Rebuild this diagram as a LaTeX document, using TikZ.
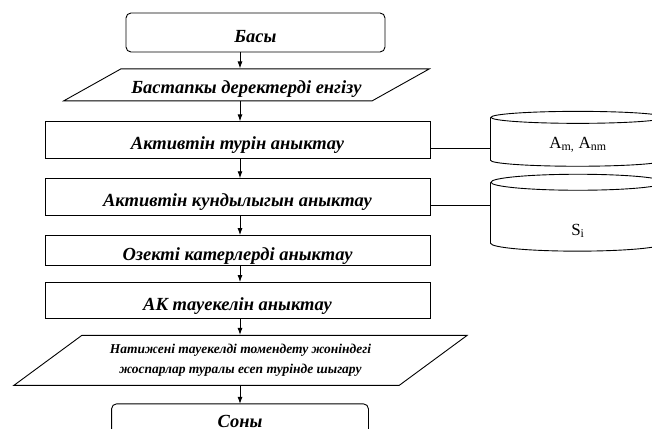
\documentclass[tikz,border=0pt]{standalone}
\usepackage{fontspec}
\setmainfont{Liberation Serif}
\usetikzlibrary{shapes,arrows,arrows.meta}
\usetikzlibrary{positioning,calc}

\begin{document}
\begin{tikzpicture}[x=1pt, y=1pt, align=center, line width=0.9pt, >={Latex[length=7pt,width=5pt]}]

%local definitions
\tikzstyle{BoxText} = [inner ysep=0pt, text height=22pt, text depth=3pt, font=\fontsize{18.5}{21}\selectfont\bfseries\itshape]
\tikzstyle{StartStop} = [draw, rectangle, rounded corners=5pt, minimum width=259pt, minimum height=39pt, BoxText]
\tikzstyle{InOut} = [draw, trapezium, trapezium left angle=24.6, trapezium right angle=155.4, trapezium stretches=true, minimum width=367pt, minimum height=32pt, inner xsep=0pt, BoxText]
\tikzstyle{Process} = [draw, rectangle, minimum width=385pt, minimum height=37pt, BoxText]
\tikzstyle{Store} = [rectangle, minimum width=174pt, font=\fontsize{17}{20}\selectfont]

\useasboundingbox (0,0) rectangle (652,428);

%flow blocks
	\node [StartStop, text height=24pt] (start) at (255.5,395.5) {Басы};
	\node [InOut, below=16pt of start, xshift=-9pt, text height=21pt] (input) {Бастапкы деректерді енгізу};
	\node [Process, below=20pt of input, xshift=-9pt] (assetType) {Активтін турін аныктау};
	\node [Process, below=19pt of assetType] (assetValue) {Активтін кундылыгын аныктау};
	\node [Process, below=19pt of assetValue, minimum height=30pt] (threats) {Озекті катерлерді аныктау};
	\node [Process, below=16pt of threats, minimum height=36pt] (riskIS) {АК тауекелін аныктау};
	\node [InOut, below=16pt of riskIS, xshift=3pt, trapezium left angle=30, trapezium right angle=150, minimum width=455pt, minimum height=50pt, text height={}, text depth={}, font=\fontsize{13.5}{20}\selectfont\bfseries\itshape] (output) {Натижені тауекелді томендету жоніндегі\\жоспарлар туралы есеп турінде шыгару};
	\node [StartStop, draw=none, below=18pt of output, xshift=-0.5pt, minimum width=256pt, minimum height=30pt, text height=17pt, text depth=0pt] (finish) {Соны};
	% box runs off the lower edge of the page
	\draw [rounded corners=5pt] (finish.south west) -- (finish.north west) -- (finish.north east) -- (finish.south east);

%data stores
	\node [Store, right=60pt of assetType, yshift=-4.5pt, minimum height=42pt] (storeA) {A\textsubscript{m,} A\textsubscript{nm}};
	\node [Store, right=60pt of assetValue, yshift=-23.5pt, minimum height=60pt, text height=32pt] (storeS) {S\textsubscript{i}};
	\foreach \st/\ry in {storeA/6, storeS/8} {
		\draw ([yshift=\ry pt]\st.north) ellipse [x radius=87pt, y radius=\ry pt];
		\draw ([yshift=\ry pt]\st.north west) -- ([yshift=\ry pt]\st.south west)
			arc [start angle=180, end angle=360, x radius=87pt, y radius=\ry pt] -- ([yshift=\ry pt]\st.north east);
	}

%connections
	\coordinate (axis) at (240,0);
	\draw [->] (start.south -| axis) -- (input.north -| axis);
	\draw [->] (input.south -| axis) -- (assetType.north -| axis);
	\draw [->] (assetType.south -| axis) -- (assetValue.north -| axis);
	\draw [->] (assetValue.south -| axis) -- (threats.north -| axis);
	\draw [->] (threats.south -| axis) -- (riskIS.north -| axis);
	\draw [->] (riskIS.south -| axis) -- (output.north -| axis);
	\draw [->] (output.south -| axis) -- (finish.north -| axis);

	\draw ([yshift=-8pt]assetType.east) -- ([yshift=-8pt]assetType.east -| storeA.west);
	\draw ([yshift=-8pt]assetValue.east) -- ([yshift=-8pt]assetValue.east -| storeS.west);

\end{tikzpicture}
\end{document}
